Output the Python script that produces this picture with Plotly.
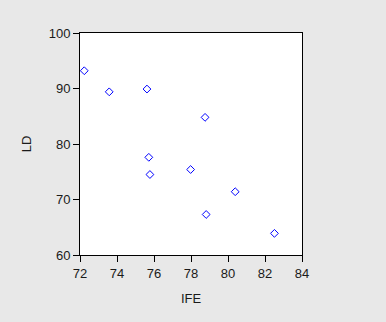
import plotly.graph_objects as go

ife = [72.23, 73.58, 75.62, 78.76, 75.72, 75.78, 77.98, 80.39, 78.82, 82.51]
ld = [93.2, 89.4, 89.9, 84.8, 77.6, 74.5, 75.4, 71.4, 67.3, 63.9]

x_ticks = [72, 74, 76, 78, 80, 82, 84]
y_ticks = [60, 70, 80, 90, 100]

fig = go.Figure(go.Scatter(
    x=ife, y=ld, mode="markers",
    marker=dict(symbol="diamond-open", size=6, color="#0000ff", line=dict(width=1, color="#0000ff")),
))

axis_common = dict(
    showgrid=False, zeroline=False, showline=True, linecolor="black", linewidth=1,
    mirror=True, ticks="outside", ticklen=6, tickcolor="black", tickwidth=1,
    tickfont=dict(family="Liberation Sans, Arial", size=13, color="#1a1a1a"),
)

fig.update_layout(
    width=386, height=322,
    margin=dict(l=80, r=84, t=33, b=67),
    paper_bgcolor="#e8e8e8", plot_bgcolor="white",
    showlegend=False,
    xaxis=dict(range=[72, 84], tickvals=x_ticks, title=dict(text="IFE", standoff=14,
               font=dict(family="Liberation Sans, Arial", size=13, color="#1a1a1a")), **axis_common),
    yaxis=dict(range=[60, 100], tickvals=y_ticks, title=dict(text="LD", standoff=14,
               font=dict(family="Liberation Sans, Arial", size=13, color="#1a1a1a")), **axis_common),
)

fig.write_html("out.html")
